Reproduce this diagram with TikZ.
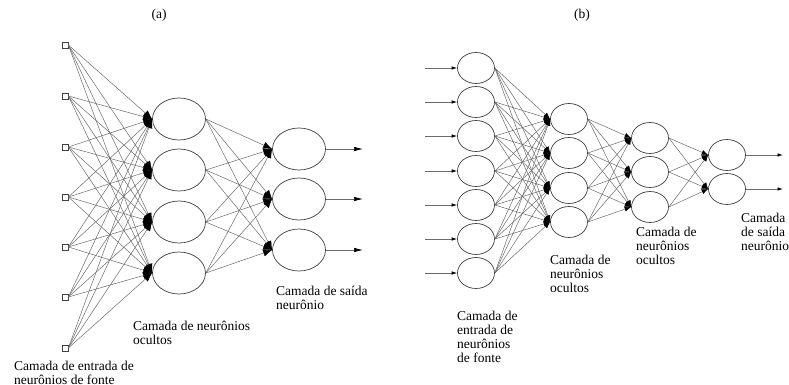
\documentclass[tikz,border=0pt]{standalone}
\usepackage{fontspec}
\setmainfont{Liberation Serif}
\newfontfamily\lblfont{Liberation Serif}
\usetikzlibrary{arrows.meta,shapes.geometric}
\definecolor{nGray}{gray}{0.42}
\definecolor{eGray}{gray}{0.25}
\tikzset{
    neur/.style={ellipse, draw=eGray, line width=0.7pt, inner sep=0pt, minimum width=53pt, minimum height=42pt},
    sneur/.style={ellipse, draw=eGray, line width=0.7pt, inner sep=0pt, minimum width=37pt, minimum height=31pt},
    src/.style={rectangle, draw=eGray, line width=0.7pt, inner sep=0pt, minimum size=6pt},
    syn/.style={nGray, line width=0.5pt, -{Latex[length=9pt,width=7pt,color=black]}},
    ssyn/.style={nGray, line width=0.5pt, -{Latex[length=6.5pt,width=5pt,color=black]}},
    outarr/.style={nGray, line width=0.7pt, -{Latex[length=9pt,width=4.5pt,color=black]}},
    soutarr/.style={nGray, line width=0.7pt, -{Latex[length=5.5pt,width=3.5pt,color=black]}},
    lbl/.style={anchor=north west, inner sep=0pt, align=left, font=\lblfont\fontsize{13.5}{14}\selectfont}
}

\begin{document}
\begin{tikzpicture}[x=1pt,y=-1pt]
\useasboundingbox (0,0) rectangle (789,385);
% (a)
\node[font=\lblfont\fontsize{13.5}{14}\selectfont] (ta) at (159,15) {(a)};
\node[src] (a1) at (65, 45) {};
\node[src] (a2) at (65, 96) {};
\node[src] (a3) at (65,147) {};
\node[src] (a4) at (65,197) {};
\node[src] (a5) at (65,247) {};
\node[src] (a6) at (65,297) {};
\node[src] (a7) at (65,348) {};
\node[neur] (h1) at (179,119) {};
\node[neur] (h2) at (179,170) {};
\node[neur] (h3) at (179,222) {};
\node[neur] (h4) at (179,273) {};
\node[neur] (o1) at (299,149) {};
\node[neur] (o2) at (299,199) {};
\node[neur] (o3) at (299,250) {};
\coordinate (y1) at (363,149);
\coordinate (y2) at (363,199);
\coordinate (y3) at (363,250);
\foreach \i in {1,...,7} \foreach \j in {1,...,4} \draw[syn] (a\i.east) -- (h\j.west);
\foreach \j in {1,...,4} \foreach \k in {1,2,3} \draw[syn] (h\j.east) -- (o\k.west);
\foreach \k in {1,2,3} \draw[outarr] (o\k.east) -- (y\k);
\node[lbl] (la1) at (14,361) {Camada de entrada de\\neurônios de fonte};
\node[lbl] (la2) at (133,321) {Camada de neurônios\\ocultos};
\node[lbl] (la3) at (276,286) {Camada de saída\\neurônio};
% (b)
\node[font=\lblfont\fontsize{13.5}{14}\selectfont] (tb) at (582,15) {(b)};
\node[sneur] (b1) at (476, 68) {};
\node[sneur] (b2) at (476,102) {};
\node[sneur] (b3) at (476,136) {};
\node[sneur] (b4) at (476,171) {};
\node[sneur] (b5) at (476,205) {};
\node[sneur] (b6) at (476,239) {};
\node[sneur] (b7) at (476,273) {};
\node[sneur] (p1) at (569,119) {};
\node[sneur] (p2) at (569,153) {};
\node[sneur] (p3) at (569,188) {};
\node[sneur] (p4) at (569,222) {};
\node[sneur] (q1) at (650,138) {};
\node[sneur] (q2) at (650,172) {};
\node[sneur] (q3) at (650,207) {};
\node[sneur] (r1) at (727,155) {};
\node[sneur] (r2) at (727,189) {};
\foreach \i in {1,...,7} {
  \coordinate (x\i) at (425,0);
  \draw[soutarr] (x\i |- b\i.west) -- (b\i.west);
}
\foreach \i in {1,...,7} \foreach \j in {1,...,4} \draw[ssyn] (b\i.east) -- (p\j.west);
\foreach \j in {1,...,4} \foreach \k in {1,2,3} \draw[ssyn] (p\j.east) -- (q\k.west);
\foreach \k in {1,2,3} \foreach \m in {1,2} \draw[ssyn] (q\k.east) -- (r\m.west);
\coordinate (z1) at (783,155);
\coordinate (z2) at (783,189);
\foreach \m in {1,2} \draw[soutarr] (r\m.east) -- (z\m);
\node[lbl] (lb1) at (457,311) {Camada de\\entrada de\\neurônios\\de fonte};
\node[lbl] (lb2) at (550,255) {Camada de\\neurônios\\ocultos};
\node[lbl] (lb3) at (636,227) {Camada de\\neurônios\\ocultos};
\node[lbl] (lb4) at (741,213) {Camada\\de saída\\neurônio};
\end{tikzpicture}
\end{document}
